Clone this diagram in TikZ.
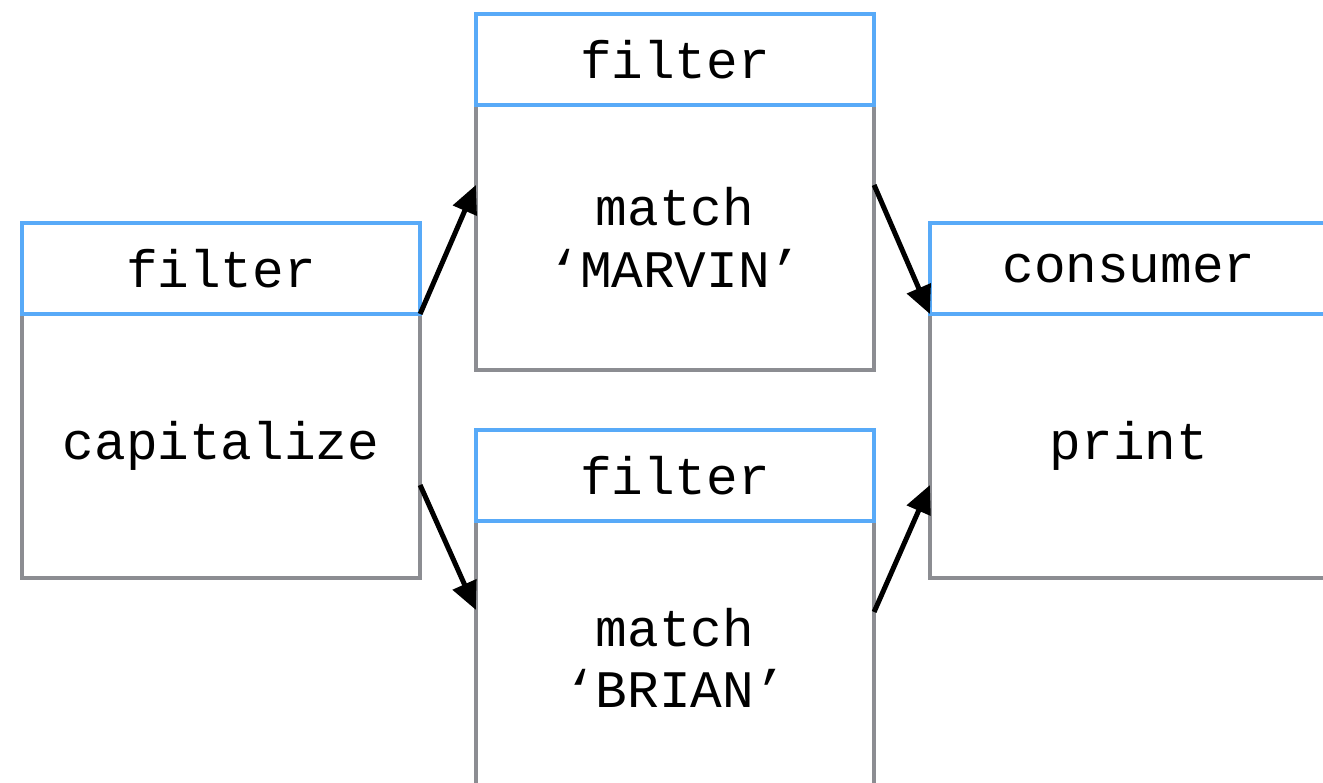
\documentclass[tikz,border=0pt]{standalone}
\usepackage{fontspec}
\setmonofont{Liberation Mono}
\usetikzlibrary{arrows.meta}
\definecolor{headblue}{RGB}{88,170,248}
\definecolor{bodygray}{RGB}{140,141,146}
\begin{document}
\begin{tikzpicture}[x=0.01cm, y=-0.01cm,
	box/.style = {draw, line width=0.04cm, outer sep=0pt, fill=white,
		minimum width=3.98cm, font=\ttfamily\fontsize{15}{17.5}\selectfont, align=center},
	head/.style = {box, draw=headblue, minimum height=0.91cm},
	body/.style = {box, draw=bodygray},
	flow/.style = {line width=0.05cm, -{Triangle[length=0.28cm, width=0.25cm]}}]
	\useasboundingbox (0,0) rectangle (1323,783);
	\clip (0,0) rectangle (1323,783);

	\node[body, minimum height=2.64cm] (capBody) at (221,446) {capitalize};
	\node[head] (capHead) at (221,268.5) {filter};

	\node[body, minimum height=2.65cm] (mrvBody) at (675,237.5) {match\\‘MARVIN’};
	\node[head] (mrvHead) at (675,59.5) {filter};

	\node[body, minimum height=2.74cm] (brnBody) at (675,658) {match\\‘BRIAN’};
	\node[head] (brnHead) at (675,475.5) {filter};

	\node[body, minimum height=2.64cm] (conBody) at (1129,446) {print};
	\node[head] (conHead) at (1129,268.5) {consumer};

	\draw[flow] (capHead.south east) -- ([yshift=0.525cm]mrvBody.west);
	\draw[flow] ([yshift=-0.39cm]capBody.east) -- ([yshift=0.48cm]brnBody.west);
	\draw[flow] ([yshift=0.525cm]mrvBody.east) -- (conHead.south west);
	\draw[flow] ([yshift=0.46cm]brnBody.east) -- ([yshift=-0.39cm]conBody.west);
\end{tikzpicture}
\end{document}
